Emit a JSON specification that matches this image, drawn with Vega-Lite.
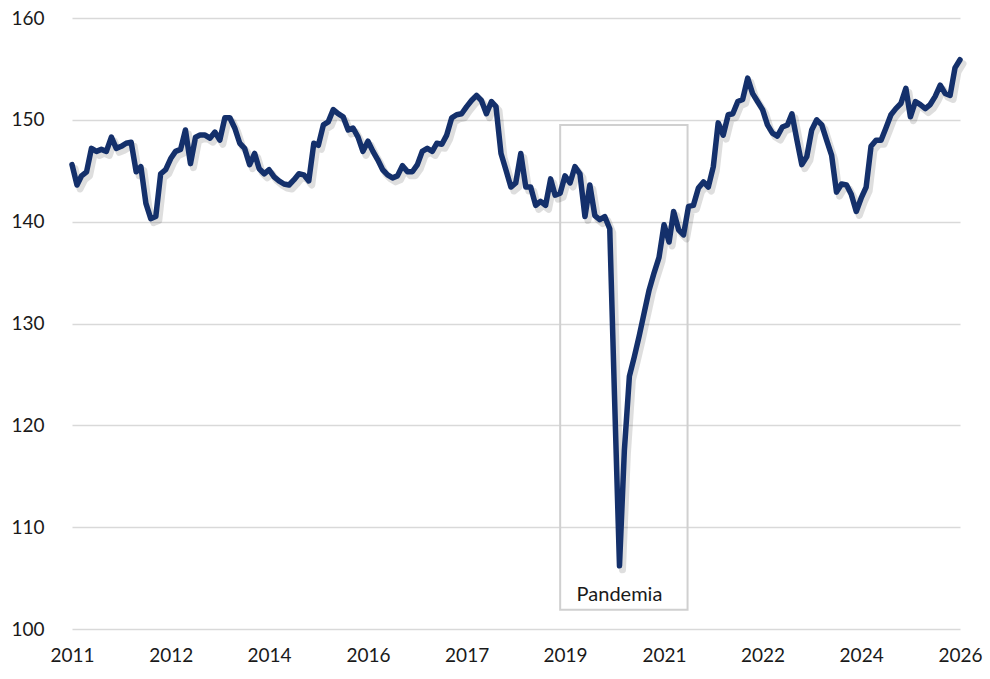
{
  "$schema": "https://vega.github.io/schema/vega-lite/v6.json",
  "width": 888,
  "height": 611,
  "autosize": "none",
  "padding": {"left": 72, "top": 18, "right": 30, "bottom": 50},
  "background": "white",
  "config": {
    "view": {"stroke": null},
    "font": "Lato",
    "axis": {"labelFont": "Lato", "labelFontSize": 19, "labelColor": "#1a1a1a", "title": null, "domain": false, "ticks": false}
  },
  "layer": [
    {
      "data": {"values": [{"start": "2019-04-01", "end": "2021-05-26", "top": 149.5, "bottom": 101.9}], "format": {"parse": {"start": "date:'%Y-%m-%d'", "end": "date:'%Y-%m-%d'"}}},
      "mark": {"type": "rect", "fill": null, "stroke": "#d0d0d0", "strokeWidth": 2},
      "encoding": {
        "x": {"field": "start", "type": "temporal"},
        "x2": {"field": "end"},
        "y": {"field": "top", "type": "quantitative"},
        "y2": {"field": "bottom"}
      }
    },
    {
      "data": {"values": [{"d": "2020-04-01", "v": 103.3, "label": "Pandemia"}], "format": {"parse": {"d": "date:'%Y-%m-%d'"}}},
      "mark": {"type": "text", "font": "Lato", "fontSize": 20, "color": "#1a1a1a", "baseline": "middle", "align": "center"},
      "encoding": {
        "x": {"field": "d", "type": "temporal"},
        "y": {"field": "v", "type": "quantitative"},
        "text": {"field": "label"}
      }
    },
    {
      "data": {"name": "series"},
      "mark": {"type": "line", "stroke": "#000000", "opacity": 0.13, "strokeWidth": 7, "xOffset": 3, "yOffset": 4, "strokeCap": "round", "strokeJoin": "round"},
      "encoding": {
        "x": {"field": "d", "type": "temporal"},
        "y": {"field": "v", "type": "quantitative"}
      }
    },
    {
      "data": {"name": "series"},
      "mark": {"type": "line", "stroke": "#14306b", "strokeWidth": 5.5, "strokeCap": "round", "strokeJoin": "round"},
      "encoding": {
        "x": {
          "field": "d",
          "type": "temporal",
          "scale": {"domain": [{"year": 2011, "month": 1, "date": 1}, {"year": 2026, "month": 1, "date": 1}], "nice": false},
          "axis": {
            "values": [
              {"year": 2011, "month": 1, "date": 1},
              {"year": 2012, "month": 9, "date": 1},
              {"year": 2014, "month": 5, "date": 1},
              {"year": 2016, "month": 1, "date": 1},
              {"year": 2017, "month": 9, "date": 1},
              {"year": 2019, "month": 5, "date": 1},
              {"year": 2021, "month": 1, "date": 1},
              {"year": 2022, "month": 9, "date": 1},
              {"year": 2024, "month": 5, "date": 1},
              {"year": 2026, "month": 1, "date": 1}
            ],
            "format": "%Y",
            "grid": false,
            "labelPadding": 17,
            "labelFlush": false,
            "labelOverlap": false
          }
        },
        "y": {
          "field": "v",
          "type": "quantitative",
          "scale": {"domain": [100, 160], "nice": false, "zero": false},
          "axis": {"values": [100, 110, 120, 130, 140, 150, 160], "grid": true, "gridColor": "#d9d9d9", "gridWidth": 1.5, "labelPadding": 28}
        }
      }
    }
  ],
  "resolve": {"scale": {"x": "shared", "y": "shared"}},
  "datasets": {
    "series": [
      {"d": "2011-01-01", "v": 145.6}, {"d": "2011-02-01", "v": 143.6}, {"d": "2011-03-01", "v": 144.5}, {"d": "2011-04-01", "v": 144.9},
      {"d": "2011-05-01", "v": 147.2}, {"d": "2011-06-01", "v": 146.9}, {"d": "2011-07-01", "v": 147.1}, {"d": "2011-08-01", "v": 146.9},
      {"d": "2011-09-01", "v": 148.3}, {"d": "2011-10-01", "v": 147.2}, {"d": "2011-11-01", "v": 147.4}, {"d": "2011-12-01", "v": 147.7},
      {"d": "2012-01-01", "v": 147.8}, {"d": "2012-02-01", "v": 144.9}, {"d": "2012-03-01", "v": 145.4}, {"d": "2012-04-01", "v": 141.8},
      {"d": "2012-05-01", "v": 140.3}, {"d": "2012-06-01", "v": 140.5}, {"d": "2012-07-01", "v": 144.7}, {"d": "2012-08-01", "v": 145.1},
      {"d": "2012-09-01", "v": 146.2}, {"d": "2012-10-01", "v": 146.9}, {"d": "2012-11-01", "v": 147.1}, {"d": "2012-12-01", "v": 149.0},
      {"d": "2013-01-01", "v": 145.7}, {"d": "2013-02-01", "v": 148.3}, {"d": "2013-03-01", "v": 148.5}, {"d": "2013-04-01", "v": 148.5},
      {"d": "2013-05-01", "v": 148.2}, {"d": "2013-06-01", "v": 148.8}, {"d": "2013-07-01", "v": 148.0}, {"d": "2013-08-01", "v": 150.2},
      {"d": "2013-09-01", "v": 150.2}, {"d": "2013-10-01", "v": 149.2}, {"d": "2013-11-01", "v": 147.7}, {"d": "2013-12-01", "v": 147.2},
      {"d": "2014-01-01", "v": 145.6}, {"d": "2014-02-01", "v": 146.7}, {"d": "2014-03-01", "v": 145.2}, {"d": "2014-04-01", "v": 144.7},
      {"d": "2014-05-01", "v": 145.1}, {"d": "2014-06-01", "v": 144.4}, {"d": "2014-07-01", "v": 144.0}, {"d": "2014-08-01", "v": 143.7},
      {"d": "2014-09-01", "v": 143.6}, {"d": "2014-10-01", "v": 144.1}, {"d": "2014-11-01", "v": 144.7}, {"d": "2014-12-01", "v": 144.6},
      {"d": "2015-01-01", "v": 144.0}, {"d": "2015-02-01", "v": 147.7}, {"d": "2015-03-01", "v": 147.5}, {"d": "2015-04-01", "v": 149.5},
      {"d": "2015-05-01", "v": 149.8}, {"d": "2015-06-01", "v": 151.0}, {"d": "2015-07-01", "v": 150.6}, {"d": "2015-08-01", "v": 150.3},
      {"d": "2015-09-01", "v": 149.0}, {"d": "2015-10-01", "v": 149.2}, {"d": "2015-11-01", "v": 148.3}, {"d": "2015-12-01", "v": 146.9},
      {"d": "2016-01-01", "v": 147.9}, {"d": "2016-02-01", "v": 146.9}, {"d": "2016-03-01", "v": 146.1}, {"d": "2016-04-01", "v": 145.1},
      {"d": "2016-05-01", "v": 144.6}, {"d": "2016-06-01", "v": 144.3}, {"d": "2016-07-01", "v": 144.5}, {"d": "2016-08-01", "v": 145.5},
      {"d": "2016-09-01", "v": 144.9}, {"d": "2016-10-01", "v": 144.9}, {"d": "2016-11-01", "v": 145.6}, {"d": "2016-12-01", "v": 146.9},
      {"d": "2017-01-01", "v": 147.2}, {"d": "2017-02-01", "v": 146.9}, {"d": "2017-03-01", "v": 147.7}, {"d": "2017-04-01", "v": 147.6},
      {"d": "2017-05-01", "v": 148.5}, {"d": "2017-06-01", "v": 150.2}, {"d": "2017-07-01", "v": 150.5}, {"d": "2017-08-01", "v": 150.6},
      {"d": "2017-09-01", "v": 151.3}, {"d": "2017-10-01", "v": 151.9}, {"d": "2017-11-01", "v": 152.4}, {"d": "2017-12-01", "v": 151.9},
      {"d": "2018-01-01", "v": 150.6}, {"d": "2018-02-01", "v": 151.8}, {"d": "2018-03-01", "v": 151.3}, {"d": "2018-04-01", "v": 146.7},
      {"d": "2018-05-01", "v": 145.1}, {"d": "2018-06-01", "v": 143.4}, {"d": "2018-07-01", "v": 143.8}, {"d": "2018-08-01", "v": 146.7},
      {"d": "2018-09-01", "v": 143.4}, {"d": "2018-10-01", "v": 143.4}, {"d": "2018-11-01", "v": 141.6}, {"d": "2018-12-01", "v": 142.0},
      {"d": "2019-01-01", "v": 141.6}, {"d": "2019-02-01", "v": 144.2}, {"d": "2019-03-01", "v": 142.6}, {"d": "2019-04-01", "v": 142.8},
      {"d": "2019-05-01", "v": 144.5}, {"d": "2019-06-01", "v": 143.8}, {"d": "2019-07-01", "v": 145.4}, {"d": "2019-08-01", "v": 144.7},
      {"d": "2019-09-01", "v": 140.5}, {"d": "2019-10-01", "v": 143.6}, {"d": "2019-11-01", "v": 140.6}, {"d": "2019-12-01", "v": 140.2},
      {"d": "2020-01-01", "v": 140.5}, {"d": "2020-02-01", "v": 139.3}, {"d": "2020-03-01", "v": 123.0}, {"d": "2020-04-01", "v": 106.2},
      {"d": "2020-05-01", "v": 117.5}, {"d": "2020-06-01", "v": 124.8}, {"d": "2020-07-01", "v": 126.7}, {"d": "2020-08-01", "v": 128.8},
      {"d": "2020-09-01", "v": 131.1}, {"d": "2020-10-01", "v": 133.3}, {"d": "2020-11-01", "v": 135.0}, {"d": "2020-12-01", "v": 136.5},
      {"d": "2021-01-01", "v": 139.7}, {"d": "2021-02-01", "v": 138.0}, {"d": "2021-03-01", "v": 141.0}, {"d": "2021-04-01", "v": 139.2},
      {"d": "2021-05-01", "v": 138.7}, {"d": "2021-06-01", "v": 141.5}, {"d": "2021-07-01", "v": 141.6}, {"d": "2021-08-01", "v": 143.3},
      {"d": "2021-09-01", "v": 143.9}, {"d": "2021-10-01", "v": 143.4}, {"d": "2021-11-01", "v": 145.4}, {"d": "2021-12-01", "v": 149.7},
      {"d": "2022-01-01", "v": 148.5}, {"d": "2022-02-01", "v": 150.5}, {"d": "2022-03-01", "v": 150.6}, {"d": "2022-04-01", "v": 151.8},
      {"d": "2022-05-01", "v": 152.0}, {"d": "2022-06-01", "v": 154.1}, {"d": "2022-07-01", "v": 152.6}, {"d": "2022-08-01", "v": 151.8},
      {"d": "2022-09-01", "v": 151.0}, {"d": "2022-10-01", "v": 149.5}, {"d": "2022-11-01", "v": 148.7}, {"d": "2022-12-01", "v": 148.4},
      {"d": "2023-01-01", "v": 149.3}, {"d": "2023-02-01", "v": 149.5}, {"d": "2023-03-01", "v": 150.6}, {"d": "2023-04-01", "v": 148.0},
      {"d": "2023-05-01", "v": 145.6}, {"d": "2023-06-01", "v": 146.4}, {"d": "2023-07-01", "v": 149.0}, {"d": "2023-08-01", "v": 150.0},
      {"d": "2023-09-01", "v": 149.5}, {"d": "2023-10-01", "v": 148.0}, {"d": "2023-11-01", "v": 146.5}, {"d": "2023-12-01", "v": 142.9},
      {"d": "2024-01-01", "v": 143.7}, {"d": "2024-02-01", "v": 143.6}, {"d": "2024-03-01", "v": 142.7}, {"d": "2024-04-01", "v": 141.0},
      {"d": "2024-05-01", "v": 142.3}, {"d": "2024-06-01", "v": 143.4}, {"d": "2024-07-01", "v": 147.4}, {"d": "2024-08-01", "v": 148.0},
      {"d": "2024-09-01", "v": 148.0}, {"d": "2024-10-01", "v": 149.2}, {"d": "2024-11-01", "v": 150.5}, {"d": "2024-12-01", "v": 151.1},
      {"d": "2025-01-01", "v": 151.6}, {"d": "2025-02-01", "v": 153.1}, {"d": "2025-03-01", "v": 150.3}, {"d": "2025-04-01", "v": 151.8},
      {"d": "2025-05-01", "v": 151.5}, {"d": "2025-06-01", "v": 151.1}, {"d": "2025-07-01", "v": 151.5}, {"d": "2025-08-01", "v": 152.3},
      {"d": "2025-09-01", "v": 153.4}, {"d": "2025-10-01", "v": 152.6}, {"d": "2025-11-01", "v": 152.4}, {"d": "2025-12-01", "v": 155.1},
      {"d": "2026-01-01", "v": 155.9}
    ]
  }
}
